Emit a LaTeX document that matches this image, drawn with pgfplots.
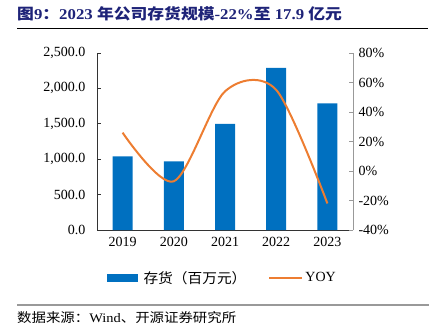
\documentclass[border=0pt]{standalone}
\usepackage{graphicx}
\usepackage{pgfplots}
\pgfplotsset{compat=1.18}
\usepackage{fontspec}
\setmainfont{Liberation Serif}
\newfontfamily\cjk{Noto Sans CJK SC}
\definecolor{barblue}{HTML}{0070C0}
\definecolor{lineorange}{HTML}{ED7D31}
\definecolor{titleblue}{RGB}{30,35,120}
\begin{document}
\begin{tikzpicture}
\path[use as bounding box] (0,0) rectangle (435pt,-331pt);
% title
\node[anchor=west, inner sep=0pt, text=titleblue, font=\fontsize{15}{18}\selectfont\bfseries] at (17pt,-14pt)
 {\scalebox{1.12}[1]{{\cjk 图}9{\cjk ：}2023 {\cjk 年公司存货规模}-22\%{\cjk 至} 17.9 {\cjk 亿元}}};
\draw[black, line width=0.9pt] (17pt,-28pt) -- (428pt,-28pt);
% source
\draw[gray!80, line width=1.3pt] (17pt,-305pt) -- (429pt,-305pt);
\node[anchor=west, inner sep=0pt, font=\fontsize{13}{15}\selectfont] at (17pt,-318pt)
 {\scalebox{1.11}[1]{{\cjk 数据来源：}Wind{\cjk 、开源证券研究所}}};

\begin{axis}[
  at={(97pt,-230pt)}, anchor=south west,
  scale only axis, width=256pt, height=177pt,
  xmin=-0.5, xmax=4.5, ymin=0, ymax=2500,
  axis y line*=left, axis x line*=bottom,
  axis line style={black!80, line width=0.8pt},
  tick align=inside,
  xtick={0,1,2,3,4},
  xticklabels={2019,2020,2021,2022,2023},
  major x tick style={draw=none},
  extra x ticks={0.5,1.5,2.5,3.5},
  extra x tick labels={},
  extra x tick style={major tick length=4pt, tick style={black!80, line width=0.8pt}},
  ytick={0,500,...,2500},
  major tick length=4pt,
  tick style={black!80, line width=0.8pt},
  /pgf/number format/assume math mode=true,
  y tick label style={/pgf/number format/fixed, /pgf/number format/fixed zerofill,
    /pgf/number format/precision=1, /pgf/number format/1000 sep={,}},
  ticklabel style={font=\fontsize{14}{16}\selectfont},
  xticklabel style={yshift=-4pt},
  yticklabel style={xshift=-8pt},
]
\addplot[ybar, bar width=20pt, fill=barblue, draw=none] coordinates {
(0,1040) (1,970) (2,1500) (3,2290) (4,1790)
};
\end{axis}

\begin{axis}[
  at={(97pt,-230pt)}, anchor=south west,
  scale only axis, width=256pt, height=177pt,
  xmin=-0.5, xmax=4.5, ymin=-40, ymax=80,
  axis y line*=right, axis x line=none,
  axis line style={black!40, line width=0.8pt},
  tick align=inside,
  ytick={-40,-20,...,80},
  major tick length=4pt,
  tick style={black!40, line width=0.8pt},
  /pgf/number format/assume math mode=true,
  yticklabel={\pgfmathprintnumber{\tick}\%},
  ticklabel style={font=\fontsize{14}{16}\selectfont},
  yticklabel style={xshift=2pt},
  legend style={at={(0.49,-0.271)}, anchor=center, draw=none, fill=none,
    legend columns=2, font=\fontsize{14}{16}\selectfont,
    /tikz/every even column/.append style={column sep=20pt}},
  legend cell align=left,
]
\addlegendimage{legend image code/.code={\fill[barblue] (0pt,-3.5pt) rectangle (30pt,3.5pt);}}
\addlegendentry{\hspace{4pt}\scalebox{1.05}[1]{\cjk 存货（百万元）}}
\addplot[lineorange, line width=2pt, smooth, no markers,
  legend image code/.code={\draw[lineorange, line width=2pt] (0pt,0pt) -- (33pt,0pt);}]
  coordinates {(0,26) (1,-7) (2,54) (3,55) (4,-22)};
\addlegendentry{YOY}
\end{axis}
\end{tikzpicture}
\end{document}
